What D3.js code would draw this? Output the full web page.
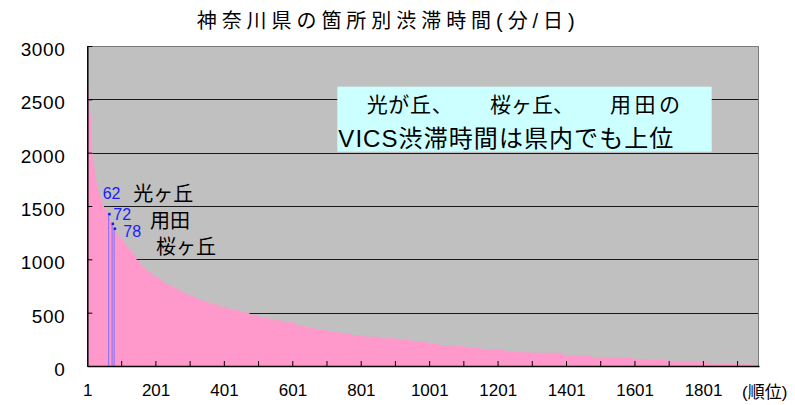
<!DOCTYPE html>
<html>
<head>
<meta charset="utf-8">
<script src="https://cdn.jsdelivr.net/npm/d3@7"></script>
<style>
  html, body { margin: 0; padding: 0; background: #ffffff; }
  svg { display: block; }
  text { font-family: "Liberation Sans", "Noto Sans CJK JP", sans-serif; }
</style>
</head>
<body>
<svg id="chart" width="795" height="405"></svg>
<script>
// Congestion minutes per day, ranked from worst to best.
// Each level is held by the number of consecutive ranked sites given in delayRuns.
const delayLevels = [
  2620, 2590, 2540, 2480, 2430, 2400, 2370, 2330, 2250, 2160,
  2080, 2010, 1960, 1910, 1870, 1830, 1780, 1730, 1680, 1640,
  1600, 1560, 1520, 1490, 1460, 1440, 1431, 1410, 1380, 1355,
  1340, 1320, 1294, 1280, 1250, 1220, 1190, 1160, 1130, 1100,
  1070, 1040, 990, 960, 930, 905, 880, 855, 830, 805,
  780, 755, 730, 705, 680, 655, 630, 605, 580, 555,
  530, 505, 480, 455, 430, 410, 385, 360, 340, 322,
  306, 291, 275, 260, 244, 228, 212, 197, 184, 172,
  160, 150, 139, 128, 125, 103, 81, 66, 59, 47,
  37, 25, 16, 0
];
const delayRuns = [
  2, 2, 1, 1, 1, 1, 2, 1, 1, 1,
  1, 1, 2, 2, 2, 2, 3, 3, 3, 3,
  4, 5, 5, 5, 4, 3, 1, 3, 3, 3,
  1, 5, 1, 6, 6, 7, 7, 8, 8, 8,
  8, 8, 8, 8, 8, 8, 10, 12, 12, 12,
  14, 14, 16, 16, 16, 18, 20, 22, 26, 28,
  30, 32, 30, 30, 36, 36, 30, 30, 34, 36,
  36, 40, 44, 44, 46, 48, 34, 36, 44, 44,
  34, 34, 38, 40, 93, 84, 121, 49, 49, 78,
  39, 87, 49, 16
];

// Highlighted sites and their ranks
const siteNames = ["光ヶ丘", "用田", "桜ヶ丘"];
const siteRanks = [62, 72, 78];

const yTickValues = [0, 500, 1000, 1500, 2000, 2500, 3000];
const xLabelRanks = [1, 201, 401, 601, 801, 1001, 1201, 1401, 1601, 1801];
const xTickRanks = [100, 200, 300, 400, 500, 600, 700, 800, 900, 1000,
                    1100, 1200, 1300, 1400, 1500, 1600, 1700, 1800, 1900];

const titleText = "神奈川県の箇所別渋滞時間(分/日)";
const xUnitText = "(順位)";
const noteLine1 = ["光が丘、", "桜ヶ丘、", "用田の"];
const noteLine2 = "VICS渋滞時間は県内でも上位";

// ---- expand runs into one value per rank ----
const rankValues = [];
delayLevels.forEach((v, i) => {
  for (let k = 0; k < delayRuns[i]; k++) rankValues.push(v);
});
const N = rankValues.length;
const ranks = d3.range(1, N + 1);

// ---- layout ----
const plot = { left: 87.3, right: 759, top: 46, bottom: 366 };
const svg = d3.select("#chart");

svg.append("rect").attr("width", 795).attr("height", 405).attr("fill", "#ffffff");

const x = d3.scaleBand().domain(ranks).range([plot.left, plot.right]).paddingInner(0).paddingOuter(0);
const y = d3.scaleLinear().domain([0, 3000]).range([plot.bottom, plot.top]);
const bw = x.bandwidth();

// plot background
svg.append("rect")
  .attr("x", plot.left).attr("y", plot.top)
  .attr("width", plot.right - plot.left).attr("height", plot.bottom - plot.top)
  .attr("fill", "#c0c0c0");

// horizontal gridlines
svg.append("g")
  .selectAll("line")
  .data(yTickValues.filter(v => v > 0 && v < 3000))
  .join("line")
  .attr("x1", plot.left).attr("x2", plot.right)
  .attr("y1", d => Math.round(y(d)) + 0.5).attr("y2", d => Math.round(y(d)) + 0.5)
  .attr("stroke", "#1a1a1a").attr("stroke-width", 1);

// ranked delay columns, drawn as one stepped area
const pts = ranks.map(r => [x(r), rankValues[r - 1]]);
pts.push([x(N) + bw, rankValues[N - 1]]);
const area = d3.area()
  .x(d => d[0])
  .y0(y(0))
  .y1(d => y(d[1]))
  .curve(d3.curveStepAfter);
svg.append("path")
  .attr("d", area(pts))
  .attr("fill", "#ff99cc");

// plot frame
svg.append("path")
  .attr("d", `M${plot.left},${plot.top + 0.5}H${plot.right - 0.5}V${plot.bottom}`)
  .attr("fill", "none").attr("stroke", "#7a7a7a").attr("stroke-width", 1);

// highlighted sites
const hl = svg.append("g");
siteRanks.forEach((r, i) => {
  const v = rankValues[r - 1];
  const x0 = x(r);
  hl.append("line")
    .attr("x1", x0 + 0.5).attr("x2", x0 + 0.5)
    .attr("y1", y(v)).attr("y2", y(0))
    .attr("stroke", "#6a6aff").attr("stroke-width", 0.9);
  hl.append("rect")
    .attr("x", x0).attr("y", y(v) - 0.5)
    .attr("width", 2.5).attr("height", 2.5)
    .attr("fill", "#1414ff");
});

// label offsets from each highlighted column top: [rank dx, rank dy, name dx, name dy]
const labelOffsets = [
  [-5.5, -14, 25, -12],
  [1.7, -3, 38.4, 5],
  [9.7, 8.7, 42.4, 26.5]
];
siteRanks.forEach((r, i) => {
  const v = rankValues[r - 1];
  const x0 = x(r), y0 = y(v);
  const o = labelOffsets[i];
  hl.append("text")
    .attr("x", x0 + o[0]).attr("y", y0 + o[1])
    .attr("font-size", 16).attr("fill", "#1a1aff")
    .text(r);
  hl.append("text")
    .attr("x", x0 + o[2]).attr("y", y0 + o[3])
    .attr("font-size", 20).attr("fill", "#000000")
    .text(siteNames[i]);
});

// y axis
const yAxis = d3.axisLeft(y)
  .tickValues(yTickValues)
  .tickFormat(d3.format("d"))
  .tickSizeInner(-5)
  .tickSizeOuter(0)
  .tickPadding(22);
const gy = svg.append("g")
  .attr("transform", `translate(${plot.left},0)`)
  .call(yAxis);
gy.select(".domain").attr("stroke", "#000000").attr("stroke-width", 1.5);
gy.selectAll(".tick line").attr("stroke", "#000000");
gy.selectAll(".tick text")
  .attr("font-size", 19).attr("font-family", "Liberation Sans, sans-serif")
  .attr("fill", "#000000").attr("dy", "0.5em").attr("letter-spacing", 0.6);

// x axis: tick marks every 100 ranks
const xTickAxis = d3.axisBottom(x)
  .tickValues(xTickRanks)
  .tickSizeInner(-5)
  .tickSizeOuter(0)
  .tickFormat("");
const gxt = svg.append("g")
  .attr("transform", `translate(0,${plot.bottom})`)
  .call(xTickAxis);
gxt.select(".domain").attr("stroke", "#000000").attr("stroke-width", 1.5);
gxt.selectAll(".tick line").attr("stroke", "#000000");

// x axis: labels every 200 ranks
const xLabelAxis = d3.axisBottom(x)
  .tickValues(xLabelRanks)
  .tickSize(0)
  .tickPadding(18);
const gxl = svg.append("g")
  .attr("transform", `translate(${-bw / 2},${plot.bottom})`)
  .call(xLabelAxis);
gxl.select(".domain").remove();
gxl.selectAll(".tick text")
  .attr("font-size", 17).attr("font-family", "Liberation Sans, sans-serif")
  .attr("fill", "#000000");

svg.append("text")
  .attr("x", 742).attr("y", 397.5)
  .attr("font-size", 17).attr("fill", "#000000")
  .text(xUnitText);

// title
svg.append("text")
  .attr("x", 196.7).attr("y", 28)
  .attr("font-size", 20)
  .attr("font-family", "Noto Sans CJK JP, sans-serif")
  .attr("textLength", 378).attr("lengthAdjust", "spacing")
  .attr("fill", "#000000")
  .text(titleText);

// note box
svg.append("rect")
  .attr("x", 337.3).attr("y", 86.7)
  .attr("width", 374.4).attr("height", 65)
  .attr("fill", "#ccffff");
const line1X = [366.7, 490, 610];
const line1Len = [86, 84, 70];
noteLine1.forEach((s, i) => {
  svg.append("text")
    .attr("x", line1X[i]).attr("y", 111.5)
    .attr("font-size", 21).attr("fill", "#000000")
    .attr("textLength", line1Len[i]).attr("lengthAdjust", "spacing")
    .text(s);
});
svg.append("text")
  .attr("x", 338.3).attr("y", 146.7)
  .attr("font-size", 24).attr("fill", "#000000")
  .attr("textLength", 335).attr("lengthAdjust", "spacing")
  .text(noteLine2);
</script>
</body>
</html>
